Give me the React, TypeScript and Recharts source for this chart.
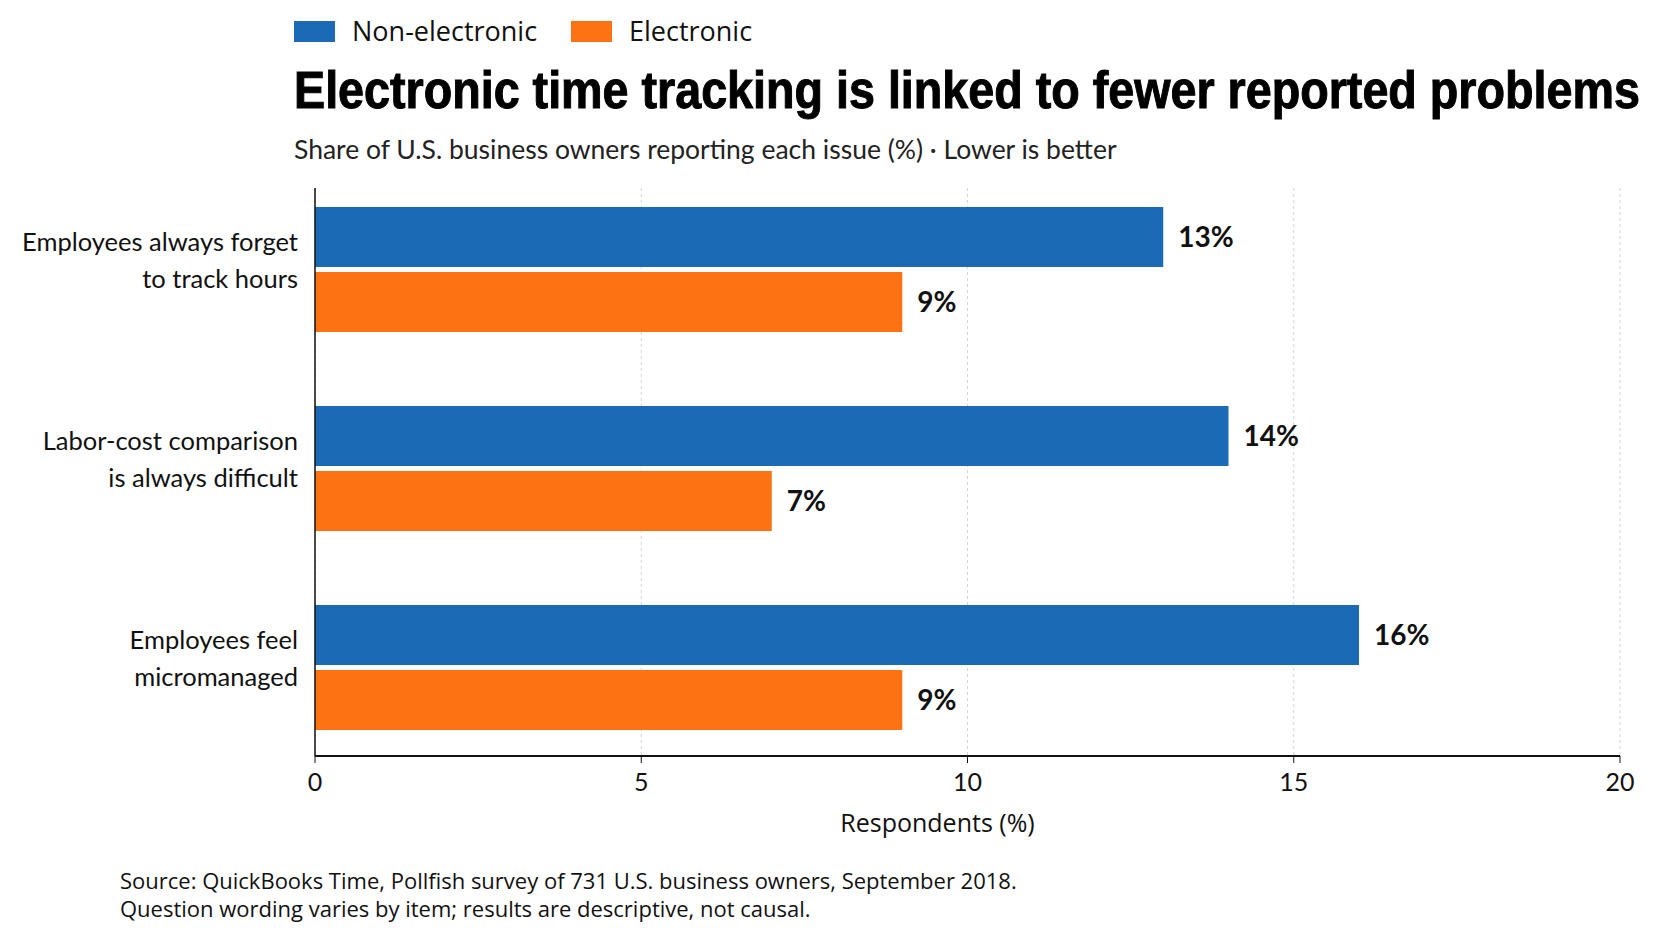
import { BarChart, Bar, XAxis, YAxis, CartesianGrid, LabelList } from 'recharts';

// categories (line breaks as shown on the axis)
const categories = [
  'Employees always forget\nto track hours',
  'Labor-cost comparison\nis always difficult',
  'Employees feel\nmicromanaged',
];
const nonElectronic = [13, 14, 16];
const electronic = [9, 7, 9];
const xTicks = [0, 5, 10, 15, 20];
const seriesNames = ['Non-electronic', 'Electronic'];
const seriesColors = ['#1b6ab5', '#fd7213'];

const data = categories.map((name, i) => ({
  name,
  nonElectronic: nonElectronic[i],
  electronic: electronic[i],
}));

const LATO = 'Lato, sans-serif';
const OPEN = '"Open Sans", sans-serif';

function CategoryTick({ x, y, payload }: any) {
  const lines = String(payload.value).split('\n');
  return (
    <text x={x} y={y} textAnchor="end" fontFamily={LATO} fontSize={25.5} fill="#111">
      {lines.map((line, i) => (
        <tspan key={i} x={x} y={y - 19 + i * 37}>
          {line}
        </tspan>
      ))}
    </text>
  );
}

const valueLabelStyle = {
  fontFamily: LATO,
  fontWeight: 700,
  fontSize: 28,
  fill: '#111',
};

export default function App() {
  return (
    <div style={{ position: 'relative', width: 1656, height: 950, background: '#fff', overflow: 'hidden' }}>
      <style>{`body { margin: 0; }`}</style>
      <BarChart
        width={1656}
        height={950}
        data={data}
        layout="vertical"
        margin={{ top: 188, right: 36, bottom: 114, left: 0 }}
        barSize={60}
        barGap={5}
      >
        <CartesianGrid horizontal={false} strokeDasharray="3 3" stroke="#d4d4d4" />
        <XAxis
          type="number"
          domain={[0, 20]}
          ticks={xTicks}
          height={80}
          axisLine={{ stroke: '#111', strokeWidth: 2 }}
          tickLine={{ stroke: '#111' }}
          tickSize={7}
          tickMargin={10}
          tick={{ fontFamily: LATO, fontSize: 25, fill: '#111' }}
          label={{
            value: 'Respondents (%)',
            position: 'insideBottom',
            offset: 4,
            dx: -30,
            style: { fontFamily: OPEN, fontSize: 25, fill: '#111' },
          }}
        />
        <YAxis
          type="category"
          dataKey="name"
          width={315}
          padding={{ top: -18, bottom: -11 }}
          axisLine={{ stroke: '#111', strokeWidth: 1.5 }}
          tickLine={false}
          tickSize={6}
          tickMargin={11}
          tick={<CategoryTick />}
        />
        <Bar dataKey="nonElectronic" name={seriesNames[0]} fill={seriesColors[0]} isAnimationActive={false}>
          <LabelList dataKey="nonElectronic" position="right" offset={15} formatter={(v: any) => `${v}%`} style={valueLabelStyle} />
        </Bar>
        <Bar dataKey="electronic" name={seriesNames[1]} fill={seriesColors[1]} isAnimationActive={false}>
          <LabelList dataKey="electronic" position="right" offset={15} formatter={(v: any) => `${v}%`} style={valueLabelStyle} />
        </Bar>
      </BarChart>

      <div
        style={{
          position: 'absolute',
          left: 294,
          top: 66,
          fontFamily: '"Liberation Sans", Arial, sans-serif',
          fontWeight: 700,
          fontSize: 51,
          lineHeight: '50px',
          whiteSpace: 'nowrap',
          color: '#000',
          WebkitTextStroke: '1px #000',
          transform: 'scaleX(0.915)',
          transformOrigin: 'left top',
        }}
      >
        Electronic time tracking is linked to fewer reported problems
      </div>

      <svg width={1656} height={950} style={{ position: 'absolute', left: 0, top: 0, pointerEvents: 'none' }}>
        {/* legend */}
        <rect x={294} y={21} width={41} height={21} fill={seriesColors[0]} />
        <text x={352} y={41} fontFamily={OPEN} fontSize={27} fill="#111">
          {seriesNames[0]}
        </text>
        <rect x={571} y={21} width={41} height={21} fill={seriesColors[1]} />
        <text x={629} y={41} fontFamily={OPEN} fontSize={27} fill="#111">
          {seriesNames[1]}
        </text>

        <text x={294} y={159} fontFamily={LATO} fontSize={26.5} fill="#222">
          Share of U.S. business owners reporting each issue (%) · Lower is better
        </text>

        <text x={120} y={889} fontFamily={OPEN} fontSize={22} fill="#111">
          Source: QuickBooks Time, Pollfish survey of 731 U.S. business owners, September 2018.
        </text>
        <text x={120} y={917} fontFamily={OPEN} fontSize={22} fill="#111">
          Question wording varies by item; results are descriptive, not causal.
        </text>
      </svg>
    </div>
  );
}
